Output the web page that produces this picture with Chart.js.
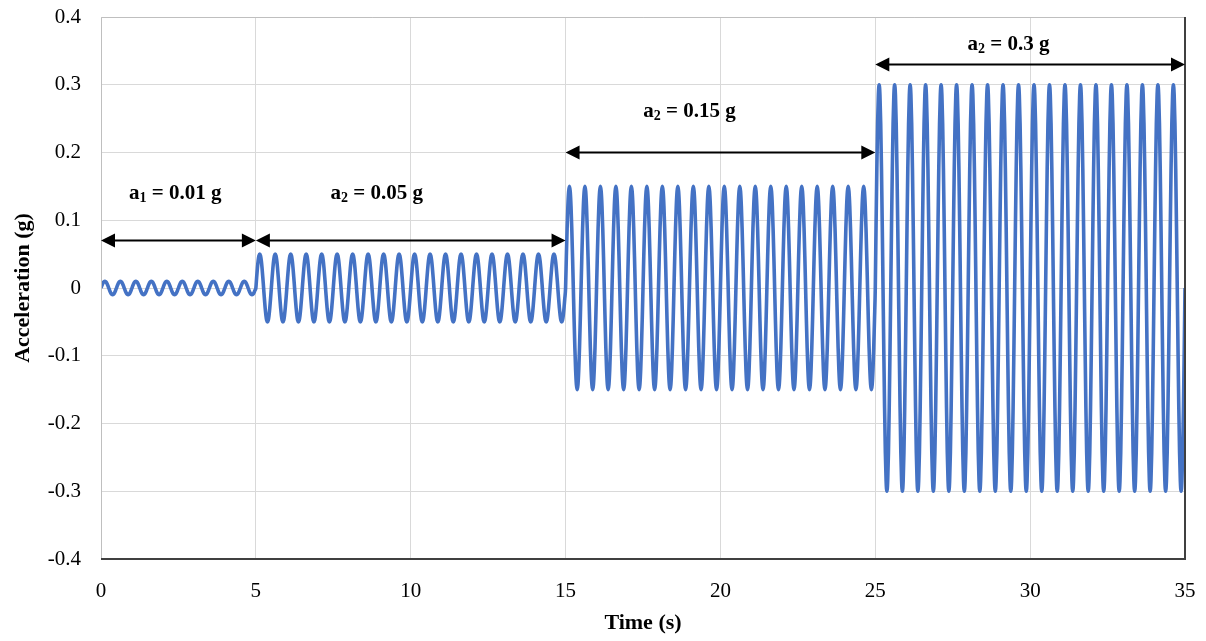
<!DOCTYPE html>
<html>
<head>
<meta charset="utf-8">
<script src="https://cdn.jsdelivr.net/npm/chart.js@4.4.1/dist/chart.umd.min.js"></script>
<style>
  html, body { margin: 0; padding: 0; background: #fff; }
  #wrap { width: 1206px; height: 641px; position: relative; }
</style>
</head>
<body>
<div id="wrap"><canvas id="accel-chart"></canvas></div>
<script>
// Harmonic base excitation: four constant-amplitude stages at 2 Hz
const STAGE_START = [0, 5, 15, 25];
const STAGE_END = [5, 15, 25, 35];
const STAGE_AMP = [0.01, 0.05, 0.15, 0.3];   // g
const STAGE_LABEL = ['0.01', '0.05', '0.15', '0.3'];
const STAGE_SUB = ['1', '2', '2', '2'];
const FREQ = 2;       // Hz
const DT = 0.025;     // s

const X_TICKS = [0, 5, 10, 15, 20, 25, 30, 35];
const Y_TICKS = [-0.4, -0.3, -0.2, -0.1, 0, 0.1, 0.2, 0.3, 0.4];

const LINE_COLOR = '#4472C4';
const GRID_COLOR = '#d9d9d9';
const FONT = '"Liberation Serif", "Times New Roman", serif';

function buildSignal() {
    const pts = [];
    STAGE_START.forEach((t0, i) => {
        const n = Math.round((STAGE_END[i] - t0) / DT);
        for (let k = (i === 0 ? 0 : 1); k <= n; k++) {
            const t = t0 + k * DT;
            pts.push({ x: +t.toFixed(3), y: STAGE_AMP[i] * Math.sin(2 * Math.PI * FREQ * t) });
        }
    });
    return pts;
}

// stage arrows + "a_i = ... g" labels, placed in data units
const stageNotes = [
    { arrowY: 0.07, textX: 2.4, textY: 0.14 },
    { arrowY: 0.07, textX: 8.9, textY: 0.14 },
    { arrowY: 0.20, textX: 19.0, textY: 0.26 },
    { arrowY: 0.33, textX: 29.3, textY: 0.36 }
];

function arrowHead(ctx, x, y, dir) {
    ctx.beginPath();
    ctx.moveTo(x, y);
    ctx.lineTo(x - dir * 14, y - 7);
    ctx.lineTo(x - dir * 14, y + 7);
    ctx.closePath();
    ctx.fill();
}

const stagePlugin = {
    id: 'stageNotes',
    afterDatasetsDraw(chart) {
        const { ctx, scales: { x, y } } = chart;
        ctx.save();
        ctx.strokeStyle = '#000';
        ctx.fillStyle = '#000';
        ctx.lineWidth = 2;
        stageNotes.forEach((n, i) => {
            const x0 = x.getPixelForValue(STAGE_START[i]);
            const x1 = x.getPixelForValue(STAGE_END[i]);
            const yy = y.getPixelForValue(n.arrowY);
            ctx.beginPath();
            ctx.moveTo(x0 + 8, yy);
            ctx.lineTo(x1 - 8, yy);
            ctx.stroke();
            arrowHead(ctx, x0, yy, -1);
            arrowHead(ctx, x1, yy, 1);

            // label with subscript
            const main = 'bold 21px ' + FONT;
            const sub = 'bold 14px ' + FONT;
            const parts = [
                { t: 'a', f: main, dy: 0 },
                { t: STAGE_SUB[i], f: sub, dy: 5 },
                { t: ' = ' + STAGE_LABEL[i] + ' g', f: main, dy: 0 }
            ];
            let w = 0;
            parts.forEach(p => { ctx.font = p.f; w += ctx.measureText(p.t).width; });
            let cx = x.getPixelForValue(n.textX) - w / 2;
            const ty = y.getPixelForValue(n.textY);
            ctx.textBaseline = 'middle';
            ctx.textAlign = 'left';
            parts.forEach(p => {
                ctx.font = p.f;
                ctx.fillText(p.t, cx, ty + p.dy);
                cx += ctx.measureText(p.t).width;
            });
        });
        ctx.restore();
    }
};

// plot frame: grey left/top, dark bottom/right
const framePlugin = {
    id: 'frame',
    afterDatasetsDraw(chart) {
        const { ctx, chartArea: a } = chart;
        ctx.save();
        ctx.lineWidth = 1;
        ctx.strokeStyle = '#bfbfbf';
        ctx.beginPath();
        ctx.moveTo(a.left + 0.5, a.bottom);
        ctx.lineTo(a.left + 0.5, a.top + 0.5);
        ctx.lineTo(a.right, a.top + 0.5);
        ctx.stroke();
        ctx.strokeStyle = '#404040';
        ctx.lineWidth = 2;
        ctx.beginPath();
        ctx.moveTo(a.right, a.top);
        ctx.lineTo(a.right, a.bottom);
        ctx.lineTo(a.left, a.bottom);
        ctx.stroke();
        ctx.restore();
    }
};

const ctx = document.getElementById('accel-chart').getContext('2d');
new Chart(ctx, {
    type: 'line',
    data: {
        datasets: [{
            data: buildSignal(),
            borderColor: LINE_COLOR,
            borderWidth: 3.6,
            borderJoinStyle: 'round',
            cubicInterpolationMode: 'monotone',
            pointRadius: 0,
            fill: false
        }]
    },
    options: {
        responsive: true, maintainAspectRatio: false,
        animation: false,
        parsing: false,
        layout: { padding: { left: 6, top: 17, right: 21, bottom: 0 } },
        plugins: { legend: { display: false }, tooltip: { enabled: false } },
        scales: {
            x: {
                type: 'linear', min: 0, max: 35,
                afterBuildTicks: s => { s.ticks = X_TICKS.map(v => ({ value: v })); },
                afterFit: s => { s.height = 82; s.paddingLeft = 0; s.paddingRight = 0; },
                grid: { color: GRID_COLOR, drawTicks: false },
                border: { display: false },
                ticks: { color: '#000', font: { family: FONT, size: 21 }, padding: 20, maxRotation: 0 },
                title: { display: true, text: 'Time (s)', color: '#000', font: { family: FONT, size: 22, weight: 'bold' }, padding: { top: 5 } }
            },
            y: {
                min: -0.4, max: 0.4,
                afterBuildTicks: s => { s.ticks = Y_TICKS.map(v => ({ value: v })); },
                afterFit: s => { s.width = 95; s.paddingTop = 0; s.paddingBottom = 0; },
                grid: { color: GRID_COLOR, drawTicks: false },
                border: { display: false },
                ticks: { color: '#000', font: { family: FONT, size: 21 }, padding: 20, callback: v => String(+v.toFixed(1)) },
                title: { display: true, text: 'Acceleration (g)', color: '#000', font: { family: FONT, size: 22, weight: 'bold' }, padding: { bottom: 4 } }
            }
        }
    },
    plugins: [framePlugin, stagePlugin]
});
</script>
</body>
</html>
